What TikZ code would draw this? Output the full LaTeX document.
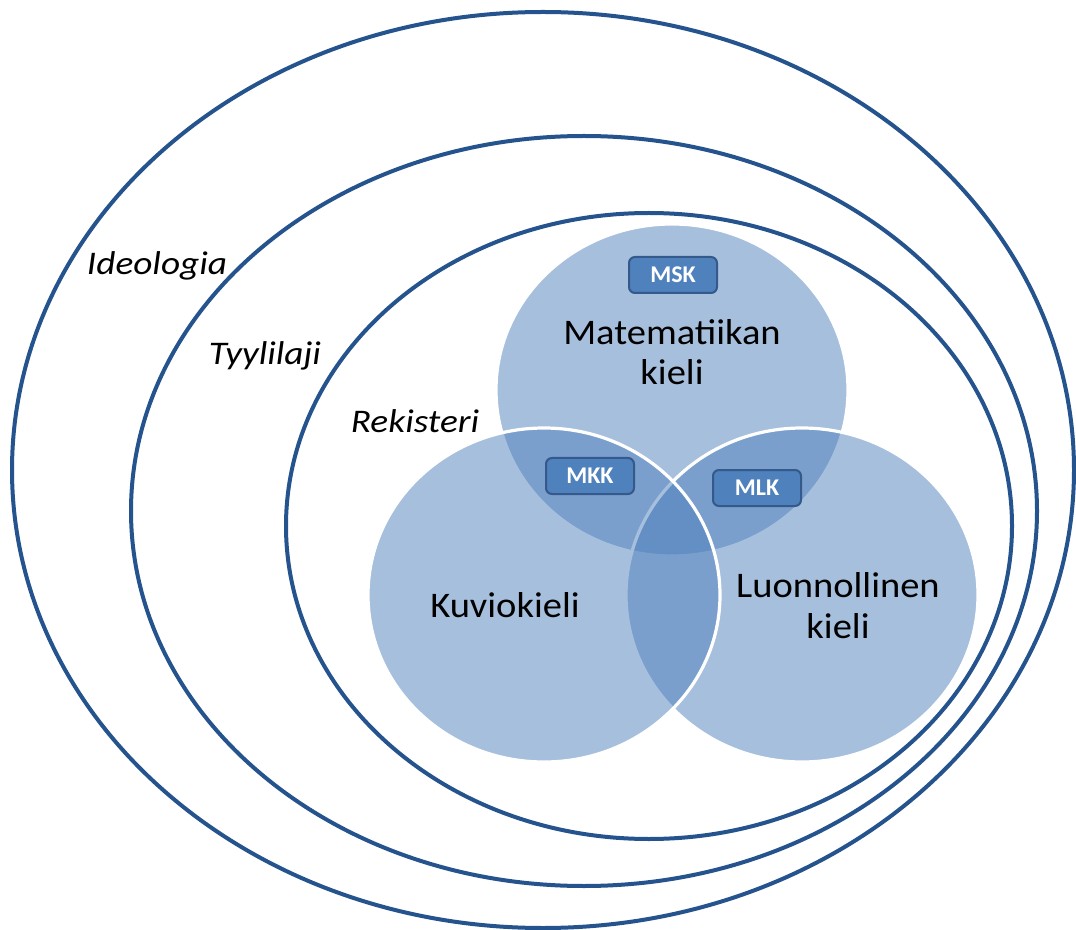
\documentclass[tikz,border=0pt]{standalone}
\usepackage{fontspec}
\setmainfont{Carlito}
\usepackage{graphicx}
\definecolor{ringcol}{HTML}{25538D}
\definecolor{vennblue}{HTML}{4F81BD}
\definecolor{boxline}{HTML}{34598A}
\newcommand{\hstretch}[2]{\scalebox{#1}[1]{#2}}
\begin{document}
\begin{tikzpicture}[x=0.5pt,y=-0.5pt,
  ringline/.style={draw=ringcol, line width=2pt},
  venn/.style={fill=vennblue, fill opacity=0.5, draw=white, draw opacity=1, line width=1.6pt},
  mainlbl/.style={anchor=base, inner sep=0pt, font=\fontsize{18}{21}\selectfont, text=black},
  itlbl/.style={anchor=base, inner sep=0pt, font=\fontsize{16.5}{20}\selectfont\itshape, text=black},
  tag/.style={rectangle, rounded corners=3pt, fill=vennblue, draw=boxline, line width=1pt,
    minimum width=44pt, minimum height=18pt, inner sep=0pt, text=white,
    font=\fontsize{12}{14}\selectfont\bfseries}
]
\useasboundingbox (0,0) rectangle (1076,930);
\fill[white] (0,0) rectangle (1076,930);

% nested ellipses
\draw[ringline] (543,470) ellipse [x radius=531, y radius=458];
\draw[ringline] (584,511) ellipse [x radius=453, y radius=375];
\draw[ringline] (649,526) ellipse [x radius=363, y radius=313];

% Venn circles (top, right, left)
\draw[venn] (672,390) ellipse [x radius=176, y radius=166];
\draw[venn] (802,595) ellipse [x radius=176, y radius=167];
\draw[venn] (544,595) ellipse [x radius=176, y radius=167];

% ring labels
\node[itlbl] (ideo) at (157,275) {\hstretch{1.13}{Ideologia}};
\node[itlbl] (tyyli) at (265,365) {\hstretch{1.13}{Tyylilaji}};
\node[itlbl] (rek) at (415,433) {\hstretch{1.13}{Rekisteri}};

% circle labels
\node[mainlbl] (mat1) at (672,345) {\hstretch{1.07}{Matematiikan}};
\node[mainlbl] (mat2) at (672,385) {\hstretch{1.07}{kieli}};
\node[mainlbl] (kuv) at (505,617) {\hstretch{1.07}{Kuviokieli}};
\node[mainlbl] (luo1) at (838,597) {\hstretch{1.07}{Luonnollinen}};
\node[mainlbl] (luo2) at (838,638) {\hstretch{1.07}{kieli}};

% tags
\node[tag] (msk) at (673,275) {MSK};
\node[tag] (mkk) at (590,476) {MKK};
\node[tag] (mlk) at (757,488) {MLK};
\end{tikzpicture}
\end{document}
